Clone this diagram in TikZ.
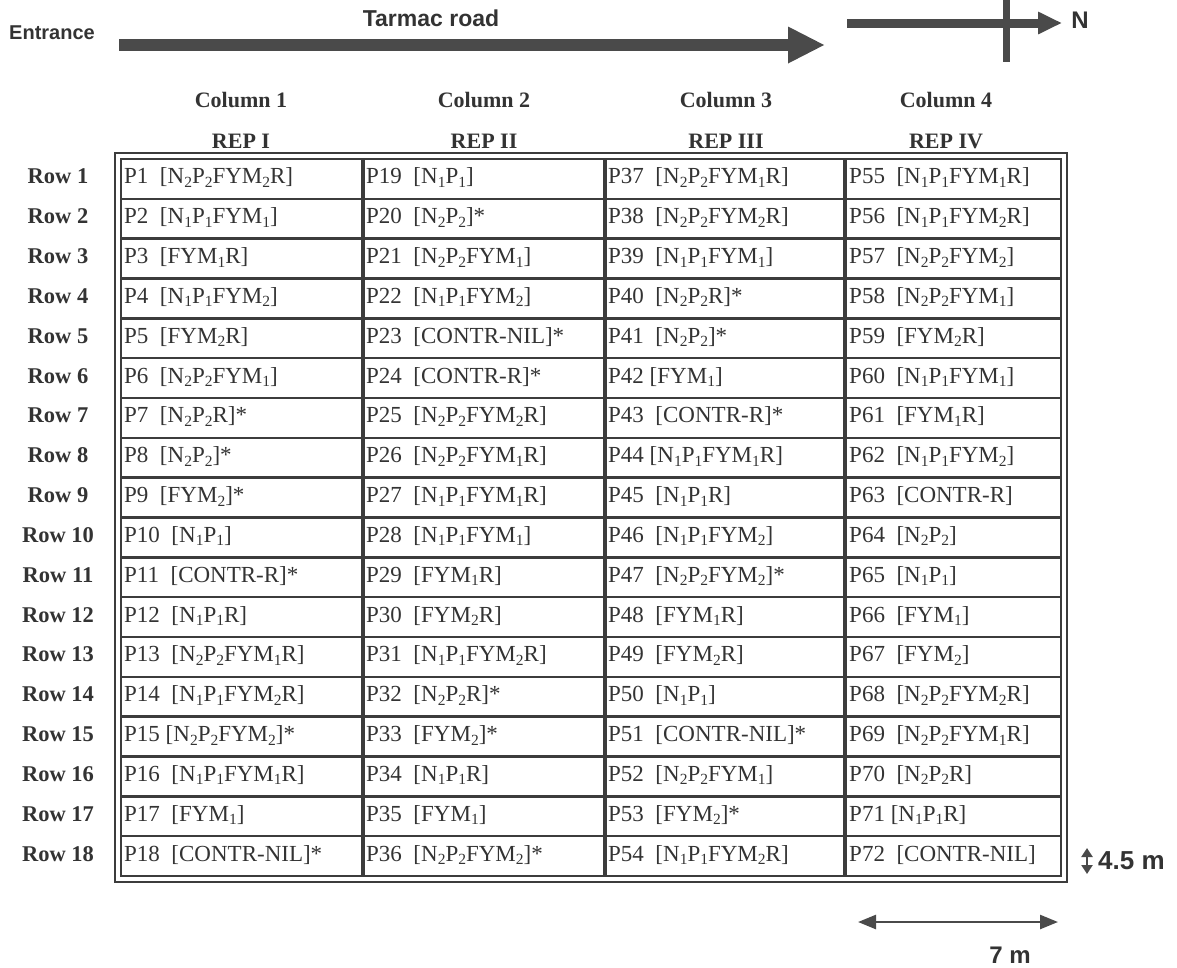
\documentclass[tikz,border=0pt]{standalone}
\usepackage{fontspec}
\setmainfont{Liberation Serif}
\newfontfamily\arialf{Liberation Sans}
\usetikzlibrary{arrows.meta}
\newcommand\Sb[1]{\raisebox{-3.5pt}{\fontsize{15.5}{15.5}\selectfont #1}}
\newcommand\Dsp{\hspace{0.5em}}
\definecolor{ink}{HTML}{333333}
\definecolor{gridline}{HTML}{3C3C3C}
\definecolor{arrowgray}{HTML}{4A4A4A}
\begin{document}
\begin{tikzpicture}[x=1pt,y=-1pt,
  cell/.style={anchor=west, inner sep=0pt, text height=15pt, text depth=5pt,
    font=\fontsize{23}{24}\selectfont, text=ink},
  rowlab/.style={inner sep=0pt, text height=15pt, text depth=5pt,
    font=\bfseries\fontsize{22.5}{24}\selectfont, text=ink},
  collab/.style={inner sep=0pt, font=\bfseries\fontsize{22}{24}\selectfont, text=ink},
  sanslab/.style={inner sep=0pt, font=\arialf\bfseries, text=ink},
  gridrule/.style={draw=gridline, line width=2.5pt},
  colrule/.style={draw=gridline, line width=3.5pt},
  border/.style={draw=gridline, line width=2pt},
  bigarrow/.style={draw=arrowgray, line width=12pt, -{Triangle[length=37pt,width=34pt]}},
  northarrow/.style={draw=arrowgray, line width=9pt, -{Triangle[length=24pt,width=21pt]}},
  dimarrow/.style={draw=arrowgray, line width=2.5pt}]
\useasboundingbox (0,0) rectangle (1177,967);

% ---- road and north sign ----
\node[sanslab, font=\arialf\bfseries\fontsize{20}{22}\selectfont] (entrance) at (52,33) {Entrance};
\node[sanslab, font=\arialf\bfseries\fontsize{23}{24}\selectfont] (tarmac) at (431,18) {Tarmac road};
\coordinate (road0) at (119,45);
\coordinate (road1) at (825,45);
\draw[bigarrow] (road0) -- (road1);
\coordinate (n0) at (847,23);
\coordinate (n1) at (1062,23);
\coordinate (v0) at (1006,0);
\coordinate (v1) at (1006,62);
\draw[northarrow] (n0) -- (n1);
\draw[draw=arrowgray, line width=7pt] (v0) -- (v1);
\node[sanslab, font=\arialf\bfseries\fontsize{24}{26}\selectfont] (north) at (1080,20) {N};

% ---- column headers ----
\node[collab] (c1) at (241,100) {Column 1};
\node[collab] (c2) at (484,100) {Column 2};
\node[collab] (c3) at (726,100) {Column 3};
\node[collab] (c4) at (946,100) {Column 4};
\node[collab] (r1) at (241,141) {REP I};
\node[collab] (r2) at (484,141) {REP II};
\node[collab] (r3) at (726,141) {REP III};
\node[collab] (r4) at (946,141) {REP IV};

% ---- grid ----
\draw[border] (115,153) rectangle (1067,882);
\draw[border] (121,159) rectangle (1061,876);
\foreach \k in {1,...,17} {
  \draw[gridrule] (121,{159+\k*39.83}) -- (1061,{159+\k*39.83});
}
\foreach \xx in {363,605,845} {
  \draw[colrule] (\xx,159) -- (\xx,876);
}

% ---- row labels ----
\foreach \i in {1,...,18} {
  \node[rowlab] (row\i) at (58,{159+(\i-0.5)*39.83}) {Row \i};
}

% ---- cells ----
\foreach \t [count=\i] in {
  P1\Dsp[N\Sb2P\Sb2FYM\Sb2R],
  P2\Dsp[N\Sb1P\Sb1FYM\Sb1],
  P3\Dsp[FYM\Sb1R],
  P4\Dsp[N\Sb1P\Sb1FYM\Sb2],
  P5\Dsp[FYM\Sb2R],
  P6\Dsp[N\Sb2P\Sb2FYM\Sb1],
  P7\Dsp[N\Sb2P\Sb2R]*,
  P8\Dsp[N\Sb2P\Sb2]*,
  P9\Dsp[FYM\Sb2]*,
  P10\Dsp[N\Sb1P\Sb1],
  P11\Dsp[CONTR-R]*,
  P12\Dsp[N\Sb1P\Sb1R],
  P13\Dsp[N\Sb2P\Sb2FYM\Sb1R],
  P14\Dsp[N\Sb1P\Sb1FYM\Sb2R],
  P15 [N\Sb2P\Sb2FYM\Sb2]*,
  P16\Dsp[N\Sb1P\Sb1FYM\Sb1R],
  P17\Dsp[FYM\Sb1],
  P18\Dsp[CONTR-NIL]*} {
  \node[cell] (p\i) at (124,{159+(\i-0.5)*39.83}) {\t};
}
\foreach \t [count=\i] in {
  P19\Dsp[N\Sb1P\Sb1],
  P20\Dsp[N\Sb2P\Sb2]*,
  P21\Dsp[N\Sb2P\Sb2FYM\Sb1],
  P22\Dsp[N\Sb1P\Sb1FYM\Sb2],
  P23\Dsp[CONTR-NIL]*,
  P24\Dsp[CONTR-R]*,
  P25\Dsp[N\Sb2P\Sb2FYM\Sb2R],
  P26\Dsp[N\Sb2P\Sb2FYM\Sb1R],
  P27\Dsp[N\Sb1P\Sb1FYM\Sb1R],
  P28\Dsp[N\Sb1P\Sb1FYM\Sb1],
  P29\Dsp[FYM\Sb1R],
  P30\Dsp[FYM\Sb2R],
  P31\Dsp[N\Sb1P\Sb1FYM\Sb2R],
  P32\Dsp[N\Sb2P\Sb2R]*,
  P33\Dsp[FYM\Sb2]*,
  P34\Dsp[N\Sb1P\Sb1R],
  P35\Dsp[FYM\Sb1],
  P36\Dsp[N\Sb2P\Sb2FYM\Sb2]*} {
  \node[cell] (q\i) at (366,{159+(\i-0.5)*39.83}) {\t};
}
\foreach \t [count=\i] in {
  P37\Dsp[N\Sb2P\Sb2FYM\Sb1R],
  P38\Dsp[N\Sb2P\Sb2FYM\Sb2R],
  P39\Dsp[N\Sb1P\Sb1FYM\Sb1],
  P40\Dsp[N\Sb2P\Sb2R]*,
  P41\Dsp[N\Sb2P\Sb2]*,
  P42 [FYM\Sb1],
  P43\Dsp[CONTR-R]*,
  P44 [N\Sb1P\Sb1FYM\Sb1R],
  P45\Dsp[N\Sb1P\Sb1R],
  P46\Dsp[N\Sb1P\Sb1FYM\Sb2],
  P47\Dsp[N\Sb2P\Sb2FYM\Sb2]*,
  P48\Dsp[FYM\Sb1R],
  P49\Dsp[FYM\Sb2R],
  P50\Dsp[N\Sb1P\Sb1],
  P51\Dsp[CONTR-NIL]*,
  P52\Dsp[N\Sb2P\Sb2FYM\Sb1],
  P53\Dsp[FYM\Sb2]*,
  P54\Dsp[N\Sb1P\Sb1FYM\Sb2R]} {
  \node[cell] (s\i) at (608,{159+(\i-0.5)*39.83}) {\t};
}
\foreach \t [count=\i] in {
  P55\Dsp[N\Sb1P\Sb1FYM\Sb1R],
  P56\Dsp[N\Sb1P\Sb1FYM\Sb2R],
  P57\Dsp[N\Sb2P\Sb2FYM\Sb2],
  P58\Dsp[N\Sb2P\Sb2FYM\Sb1],
  P59\Dsp[FYM\Sb2R],
  P60\Dsp[N\Sb1P\Sb1FYM\Sb1],
  P61\Dsp[FYM\Sb1R],
  P62\Dsp[N\Sb1P\Sb1FYM\Sb2],
  P63\Dsp[CONTR-R],
  P64\Dsp[N\Sb2P\Sb2],
  P65\Dsp[N\Sb1P\Sb1],
  P66\Dsp[FYM\Sb1],
  P67\Dsp[FYM\Sb2],
  P68\Dsp[N\Sb2P\Sb2FYM\Sb2R],
  P69\Dsp[N\Sb2P\Sb2FYM\Sb1R],
  P70\Dsp[N\Sb2P\Sb2R],
  P71 [N\Sb1P\Sb1R],
  P72\Dsp[CONTR-NIL]} {
  \node[cell] (t\i) at (849,{159+(\i-0.5)*39.83}) {\t};
}

% ---- dimensions ----
\coordinate (h0) at (1087,848);
\coordinate (h1) at (1087,874);
\draw[dimarrow, line width=2.5pt, {Triangle[length=9pt,width=11pt]}-{Triangle[length=9pt,width=11pt]}] (h0) -- (h1);
\node[sanslab, anchor=west, font=\arialf\bfseries\fontsize{26}{28}\selectfont] (dimh) at (1098,861) {4.5 m};
\coordinate (w0) at (858,922);
\coordinate (w1) at (1058,922);
\draw[dimarrow, {Triangle[length=18pt,width=14pt]}-{Triangle[length=18pt,width=14pt]}] (w0) -- (w1);
\node[sanslab, font=\arialf\bfseries\fontsize{24}{26}\selectfont] (dimw) at (1010,955) {7 m};
\end{tikzpicture}
\end{document}
